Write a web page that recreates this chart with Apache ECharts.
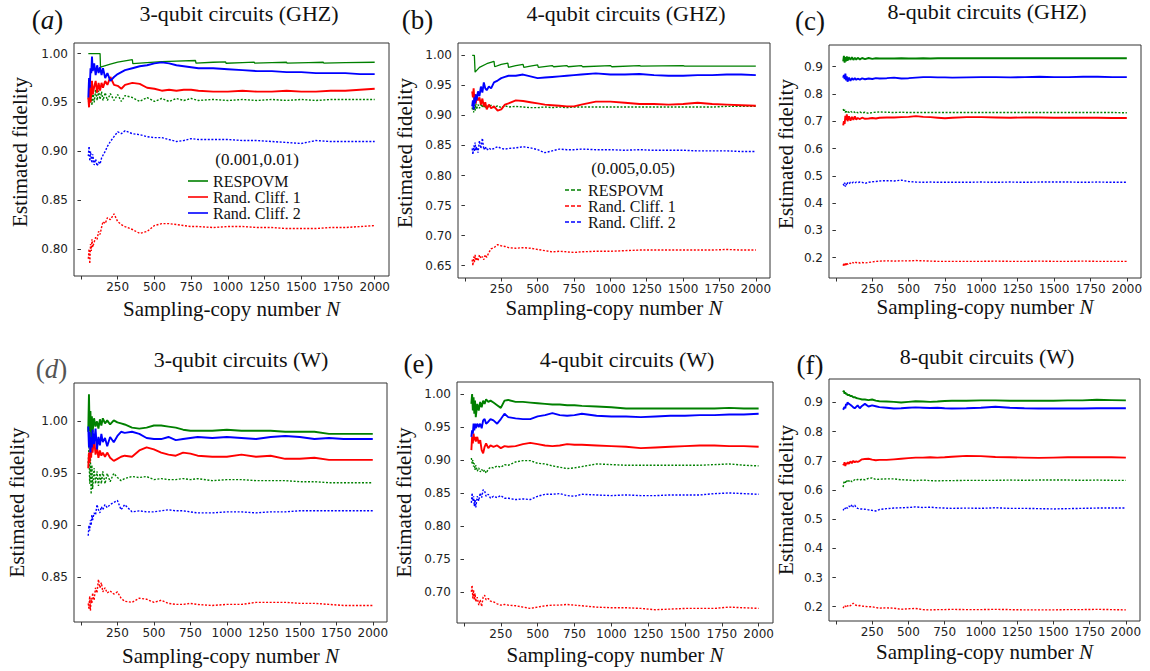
<!DOCTYPE html>
<html><head><meta charset="utf-8">
<script src="https://cdn.jsdelivr.net/npm/echarts@6/dist/echarts.min.js"></script>
<style>html,body{margin:0;padding:0;background:#fff}#chart{width:1150px;height:671px}</style>
</head><body><div id="chart"></div>
<script>
// ---------- shared sampling grid (N) and tick values ----------
const N = [50,55,60,65,70,75,80, 90,100,110,120,130,140,150, 165,180,200,225,250,275,300,
  350,400,450,500,550,600,650,700,750,800, 900,1000,1100,1200,1300,1400,1500,1600,1700,1800,1900,2000];
const xTicks = [0,250,500,750,1000,1250,1500,1750,2000];
const xLabels = [250,500,750,1000,1250,1500,1750,2000];
const yTicksA = [0.80,0.85,0.90,0.95,1.00];
const yTicksB = [0.65,0.70,0.75,0.80,0.85,0.90,0.95,1.00];
const yTicksC = [0.2,0.3,0.4,0.5,0.6,0.7,0.8,0.9];
const yTicksD = [0.85,0.90,0.95,1.00];
const yTicksE = [0.70,0.75,0.80,0.85,0.90,0.95,1.00];
const yTicksF = [0.2,0.3,0.4,0.5,0.6,0.7,0.8,0.9];

// ---------- (a) 3-qubit GHZ ----------
const a_resp_lo = [[50,1.0],[130,1.0],[133,0.986],[200,0.9892],[250,0.9912],[300,0.9926],[350,0.9937],[353,0.9896],[450,0.9908],[550,0.9917],[650,0.9923],[780,0.9929],[783,0.9903],[900,0.9911],[985,0.9915],[988,0.9901],[1100,0.9908],[1180,0.9912],[1183,0.9902],[1300,0.9907],[1400,0.9911],[1403,0.9902],[1550,0.9908],[1650,0.9911],[1653,0.9903],[1800,0.9907],[2000,0.9911]];
const a_rc1_lo = [0.955,0.945,0.968,0.95,0.96,0.972,0.958, 0.966,0.972,0.96,0.97,0.962,0.97,0.965, 0.972,0.968,0.976,0.968,0.967,0.964,0.968,
  0.97,0.969,0.965,0.964,0.962,0.963,0.962,0.963,0.963,0.962, 0.961,0.961,0.962,0.961,0.961,0.962,0.961,0.961,0.962,0.962,0.963,0.964];
const a_rc2_lo = [0.955,0.975,0.965,0.985,0.98,0.997,0.982, 0.99,0.978,0.988,0.98,0.986,0.978,0.985, 0.975,0.98,0.972,0.976,0.979,0.981,0.983,
  0.985,0.987,0.988,0.99,0.991,0.99,0.988,0.987,0.986,0.985, 0.985,0.984,0.983,0.982,0.982,0.981,0.981,0.98,0.98,0.98,0.979,0.979];
const a_resp_hi = [0.955,0.945,0.96,0.95,0.958,0.947,0.962, 0.95,0.963,0.952,0.962,0.953,0.961,0.952, 0.96,0.952,0.959,0.952,0.958,0.951,0.957,
  0.955,0.951,0.955,0.951,0.954,0.951,0.954,0.952,0.954,0.952, 0.953,0.952,0.953,0.952,0.953,0.952,0.953,0.952,0.953,0.953,0.953,0.953];
const a_rc1_hi = [0.79,0.8,0.785,0.805,0.798,0.81,0.802, 0.807,0.812,0.81,0.818,0.815,0.822,0.828, 0.826,0.832,0.83,0.836,0.828,0.825,0.823,
  0.82,0.816,0.818,0.824,0.826,0.826,0.825,0.824,0.823,0.823, 0.822,0.823,0.823,0.822,0.822,0.821,0.821,0.821,0.822,0.822,0.823,0.824];
const a_rc2_hi = [0.895,0.905,0.89,0.9,0.893,0.888,0.897, 0.886,0.892,0.885,0.889,0.887,0.893,0.896, 0.9,0.905,0.91,0.915,0.92,0.918,0.921,
  0.918,0.917,0.915,0.914,0.914,0.912,0.91,0.911,0.913,0.912, 0.912,0.912,0.911,0.911,0.91,0.909,0.908,0.911,0.91,0.91,0.91,0.91];

// ---------- (b) 4-qubit GHZ ----------
const b_resp_lo = [[50,1.0],[65,1.0],[70,0.972],[100,0.980],[150,0.986],[200,0.990],[205,0.981],[250,0.985],[295,0.987],[300,0.980],[350,0.983],[400,0.985],[405,0.980],[450,0.982],[500,0.984],[505,0.980],[600,0.983],[610,0.981],[700,0.983],[710,0.981],[800,0.983],[810,0.981],[1000,0.983],[1010,0.981],[1200,0.983],[1210,0.982],[1500,0.983],[1510,0.982],[2000,0.982]];
const b_rc1_lo = [0.94,0.93,0.945,0.925,0.935,0.92,0.932, 0.925,0.93,0.918,0.928,0.915,0.922,0.91, 0.918,0.912,0.915,0.908,0.91,0.918,0.92,
  0.925,0.924,0.922,0.92,0.918,0.917,0.916,0.915,0.915,0.918, 0.923,0.923,0.921,0.919,0.919,0.918,0.919,0.921,0.919,0.918,0.917,0.916];
const b_rc2_lo = [0.915,0.925,0.91,0.93,0.92,0.935,0.925, 0.94,0.932,0.948,0.938,0.955,0.945,0.942, 0.948,0.945,0.955,0.958,0.962,0.964,0.966,
  0.966,0.968,0.965,0.962,0.963,0.964,0.965,0.966,0.967,0.968, 0.97,0.968,0.968,0.969,0.967,0.966,0.966,0.967,0.967,0.968,0.968,0.967];
const b_resp_hi = [0.91,0.92,0.905,0.918,0.908,0.92,0.91, 0.918,0.912,0.92,0.913,0.918,0.912,0.917, 0.914,0.917,0.913,0.916,0.913,0.916,0.914,
  0.915,0.914,0.913,0.913,0.914,0.913,0.914,0.913,0.914,0.914, 0.914,0.914,0.914,0.914,0.914,0.914,0.914,0.914,0.914,0.915,0.915,0.915];
const b_rc1_hi = [0.66,0.65,0.665,0.655,0.668,0.66,0.663, 0.658,0.668,0.662,0.665,0.66,0.668,0.664, 0.672,0.678,0.68,0.685,0.683,0.682,0.68,
  0.679,0.68,0.679,0.677,0.675,0.673,0.674,0.673,0.672,0.673, 0.674,0.674,0.675,0.676,0.676,0.676,0.676,0.676,0.676,0.677,0.676,0.676];
const b_rc2_hi = [0.845,0.835,0.85,0.84,0.855,0.842,0.848, 0.838,0.858,0.845,0.862,0.843,0.848,0.842, 0.846,0.843,0.845,0.848,0.845,0.844,0.845,
  0.846,0.848,0.846,0.843,0.838,0.841,0.844,0.843,0.843,0.844, 0.843,0.843,0.842,0.843,0.842,0.842,0.842,0.841,0.841,0.841,0.84,0.84];

// ---------- (c) 8-qubit GHZ ----------
const c_resp_lo = [0.92,0.94,0.915,0.935,0.92,0.938,0.922, 0.935,0.925,0.935,0.925,0.933,0.926,0.933, 0.927,0.932,0.928,0.932,0.929,0.931,0.93,
  0.93,0.93,0.931,0.93,0.93,0.931,0.93,0.931,0.931,0.931, 0.931,0.931,0.931,0.931,0.931,0.931,0.931,0.931,0.931,0.931,0.931,0.931];
const c_rc1_lo = [0.685,0.7,0.69,0.72,0.705,0.725,0.7, 0.718,0.702,0.716,0.705,0.718,0.706,0.712, 0.708,0.713,0.709,0.71,0.712,0.71,0.713,
  0.714,0.714,0.715,0.716,0.719,0.716,0.715,0.713,0.711,0.713, 0.715,0.715,0.714,0.713,0.714,0.714,0.713,0.713,0.713,0.713,0.712,0.712];
const c_rc2_lo = [0.86,0.87,0.855,0.875,0.85,0.865,0.845, 0.86,0.848,0.858,0.852,0.858,0.852,0.856, 0.853,0.857,0.854,0.857,0.855,0.858,0.857,
  0.858,0.86,0.857,0.858,0.86,0.862,0.862,0.861,0.861,0.86, 0.861,0.862,0.862,0.861,0.862,0.863,0.862,0.862,0.863,0.863,0.862,0.862];
const c_resp_hi = [0.745,0.735,0.742,0.732,0.74,0.733,0.738, 0.732,0.737,0.733,0.736,0.732,0.735,0.731, 0.734,0.73,0.733,0.729,0.732,0.733,0.734,
  0.733,0.732,0.733,0.732,0.732,0.732,0.732,0.732,0.732,0.732, 0.732,0.732,0.732,0.732,0.732,0.732,0.732,0.732,0.732,0.732,0.732,0.731];
const c_rc1_hi = [0.17,0.18,0.168,0.178,0.172,0.182,0.175, 0.18,0.178,0.183,0.18,0.184,0.181,0.183, 0.18,0.182,0.18,0.182,0.184,0.186,0.187,
  0.188,0.187,0.188,0.188,0.189,0.188,0.187,0.186,0.186,0.186, 0.186,0.186,0.187,0.186,0.186,0.187,0.186,0.186,0.187,0.186,0.186,0.186];
const c_rc2_hi = [0.47,0.465,0.475,0.46,0.47,0.465,0.475, 0.47,0.476,0.473,0.477,0.474,0.477,0.475, 0.477,0.476,0.472,0.476,0.478,0.479,0.481,
  0.482,0.481,0.484,0.479,0.477,0.476,0.477,0.476,0.476,0.476, 0.476,0.477,0.476,0.477,0.476,0.477,0.477,0.477,0.476,0.477,0.476,0.476];

// ---------- (d) 3-qubit W ----------
const d_resp_lo = [0.99,1.026,0.99,1.01,0.985,1.005,0.99, 1.003,0.995,1.0,0.993,1.002,0.996,1.003, 0.998,1.001,0.997,1.001,0.999,0.998,0.997,
  0.994,0.993,0.994,0.996,0.996,0.995,0.994,0.992,0.991,0.991, 0.991,0.992,0.991,0.991,0.991,0.99,0.99,0.99,0.988,0.988,0.988,0.988];
const d_rc1_lo = [0.955,0.97,0.96,0.975,0.965,0.98,0.97, 0.985,0.968,0.975,0.965,0.972,0.967,0.97, 0.966,0.97,0.965,0.962,0.964,0.966,0.967,
  0.966,0.972,0.975,0.973,0.97,0.968,0.967,0.97,0.969,0.967, 0.966,0.966,0.968,0.966,0.967,0.964,0.964,0.965,0.963,0.963,0.963,0.963];
const d_rc2_lo = [0.995,0.975,0.99,0.97,0.985,0.975,0.992, 0.978,0.993,0.973,0.985,0.977,0.988,0.98, 0.984,0.976,0.985,0.98,0.986,0.99,0.989,
  0.99,0.988,0.984,0.983,0.983,0.985,0.982,0.983,0.984,0.985, 0.984,0.985,0.984,0.983,0.985,0.986,0.985,0.983,0.984,0.983,0.983,0.983];
const d_resp_hi = [0.96,0.975,0.94,0.965,0.93,0.958,0.935, 0.955,0.94,0.952,0.938,0.95,0.94,0.952, 0.94,0.95,0.942,0.95,0.946,0.943,0.945,
  0.947,0.946,0.947,0.944,0.945,0.944,0.944,0.945,0.944,0.945, 0.943,0.944,0.944,0.943,0.943,0.943,0.942,0.942,0.941,0.941,0.941,0.941];
const d_rc1_hi = [0.825,0.82,0.832,0.818,0.83,0.825,0.835, 0.828,0.84,0.835,0.848,0.84,0.845,0.836, 0.84,0.835,0.837,0.834,0.836,0.83,0.827,
  0.826,0.83,0.829,0.826,0.828,0.825,0.824,0.824,0.825,0.824, 0.823,0.824,0.824,0.826,0.826,0.826,0.825,0.825,0.824,0.823,0.823,0.823];
const d_rc2_hi = [0.89,0.9,0.895,0.905,0.9,0.91,0.905, 0.912,0.91,0.92,0.915,0.912,0.918,0.915, 0.92,0.917,0.92,0.922,0.924,0.915,0.92,
  0.913,0.914,0.913,0.913,0.914,0.915,0.914,0.914,0.913,0.912, 0.912,0.913,0.913,0.912,0.913,0.913,0.914,0.914,0.914,0.914,0.914,0.914];

// ---------- (e) 4-qubit W ----------
const e_resp_lo = [0.985,1.0,0.975,0.995,0.97,0.99,0.965, 0.985,0.975,0.988,0.98,0.99,0.985,0.992, 0.988,0.99,0.987,0.983,0.979,0.99,0.991,
  0.988,0.988,0.987,0.986,0.985,0.984,0.984,0.983,0.983,0.982, 0.981,0.98,0.978,0.978,0.978,0.978,0.978,0.978,0.978,0.979,0.978,0.978];
const e_rc1_lo = [0.915,0.935,0.925,0.94,0.93,0.935,0.928, 0.935,0.925,0.93,0.915,0.91,0.92,0.925, 0.918,0.922,0.92,0.922,0.918,0.921,0.92,
  0.921,0.924,0.926,0.924,0.922,0.921,0.922,0.924,0.923,0.923, 0.922,0.921,0.92,0.918,0.919,0.92,0.921,0.922,0.922,0.921,0.921,0.92];
const e_rc2_lo = [0.935,0.945,0.94,0.955,0.945,0.955,0.948, 0.955,0.95,0.955,0.948,0.96,0.962,0.955, 0.958,0.962,0.96,0.955,0.962,0.97,0.965,
  0.963,0.962,0.962,0.966,0.968,0.971,0.968,0.967,0.968,0.97, 0.967,0.966,0.966,0.965,0.966,0.967,0.967,0.968,0.968,0.969,0.969,0.97];
const e_resp_hi = [0.903,0.895,0.9,0.89,0.895,0.885,0.892, 0.883,0.888,0.882,0.886,0.882,0.885,0.88, 0.886,0.889,0.888,0.891,0.889,0.893,0.892,
  0.897,0.899,0.899,0.895,0.894,0.891,0.889,0.887,0.888,0.89, 0.894,0.893,0.892,0.892,0.892,0.892,0.892,0.892,0.893,0.894,0.892,0.891];
const e_rc1_hi = [0.7,0.71,0.69,0.703,0.688,0.698,0.685, 0.692,0.68,0.688,0.678,0.692,0.695,0.688, 0.69,0.686,0.685,0.682,0.68,0.681,0.68,
  0.679,0.677,0.675,0.677,0.679,0.68,0.68,0.681,0.68,0.679, 0.677,0.676,0.676,0.675,0.673,0.674,0.675,0.675,0.675,0.677,0.676,0.675];
const e_rc2_hi = [0.835,0.85,0.838,0.845,0.83,0.84,0.828, 0.845,0.838,0.85,0.843,0.855,0.853,0.845, 0.848,0.842,0.845,0.843,0.846,0.842,0.842,
  0.84,0.841,0.84,0.845,0.848,0.848,0.849,0.846,0.845,0.848, 0.847,0.846,0.847,0.846,0.846,0.847,0.847,0.847,0.849,0.85,0.849,0.848];

// ---------- (f) 8-qubit W ----------
const f_resp_lo = [0.935,0.94,0.93,0.935,0.928,0.93,0.925, 0.926,0.922,0.922,0.918,0.918,0.915,0.914, 0.912,0.91,0.91,0.908,0.91,0.906,0.904,
  0.903,0.902,0.9,0.902,0.904,0.903,0.902,0.903,0.905,0.906, 0.906,0.907,0.907,0.906,0.906,0.906,0.906,0.907,0.907,0.909,0.908,0.907];
const f_rc1_lo = [0.69,0.685,0.695,0.682,0.692,0.688,0.695, 0.69,0.698,0.692,0.7,0.695,0.698,0.696, 0.7,0.705,0.706,0.707,0.704,0.702,0.703,
  0.703,0.705,0.707,0.709,0.711,0.711,0.712,0.711,0.712,0.714, 0.717,0.716,0.713,0.712,0.711,0.71,0.711,0.712,0.712,0.712,0.712,0.711];
const f_rc2_lo = [0.875,0.88,0.885,0.88,0.895,0.89,0.9, 0.895,0.892,0.888,0.883,0.88,0.885,0.89, 0.88,0.888,0.895,0.886,0.89,0.887,0.884,
  0.882,0.879,0.88,0.882,0.883,0.882,0.881,0.882,0.88,0.879, 0.88,0.882,0.885,0.882,0.88,0.879,0.879,0.879,0.879,0.88,0.88,0.88];
const f_resp_hi = [0.61,0.625,0.63,0.625,0.632,0.628,0.635, 0.63,0.634,0.628,0.632,0.635,0.633,0.636, 0.634,0.637,0.635,0.64,0.641,0.636,0.637,
  0.638,0.638,0.635,0.634,0.632,0.634,0.632,0.631,0.632,0.632, 0.633,0.633,0.633,0.634,0.633,0.634,0.634,0.634,0.633,0.634,0.633,0.633];
const f_rc1_hi = [0.195,0.2,0.198,0.203,0.2,0.205,0.202, 0.206,0.203,0.208,0.212,0.207,0.205,0.203, 0.204,0.202,0.201,0.2,0.2,0.197,0.195,
  0.196,0.195,0.191,0.193,0.194,0.19,0.189,0.19,0.19,0.191, 0.19,0.19,0.191,0.19,0.189,0.189,0.189,0.19,0.19,0.191,0.19,0.189];
const f_rc2_hi = [0.53,0.535,0.532,0.538,0.535,0.54,0.537, 0.545,0.54,0.55,0.542,0.548,0.54,0.537, 0.535,0.535,0.534,0.532,0.53,0.528,0.533,
  0.536,0.538,0.539,0.54,0.542,0.54,0.541,0.539,0.538,0.537, 0.538,0.537,0.539,0.537,0.537,0.536,0.535,0.536,0.537,0.538,0.538,0.538];

const seriesNames = ['RESPOVM','Rand. Cliff. 1','Rand. Cliff. 2'];
const hiSuffix = ' (0.005,0.05)';
const titles = ['3-qubit circuits (GHZ)','4-qubit circuits (GHZ)','8-qubit circuits (GHZ)',
                '3-qubit circuits (W)','4-qubit circuits (W)','8-qubit circuits (W)'];
const panelLetters = ['a','b','c','d','e','f'];

// ---------- layout / style (not data) ----------
const COLORS = ['#008000','#ff0000','#0000ff'];
const SERIF = 'Liberation Serif';
const panels = [
  {lo:[a_resp_lo,a_rc1_lo,a_rc2_lo], hi:[a_resp_hi,a_rc1_hi,a_rc2_hi], yt:yTicksA, dec:2, ymin:0.7724, ymax:1.0108,
   g:{left:74,top:43,width:315,height:233}, xg:22, yg:44, ypad:15, t:[239,13], l:[47.5,19.5], it:true},
  {lo:[b_resp_lo,b_rc1_lo,b_rc2_lo], hi:[b_resp_hi,b_rc1_hi,b_rc2_hi], yt:yTicksB, dec:2, ymin:0.6295, ymax:1.0205,
   g:{left:458,top:43,width:312,height:235}, xg:19, yg:42.5, ypad:15, t:[626,13], l:[417.5,19.5], it:false},
  {lo:[c_resp_lo,c_rc1_lo,c_rc2_lo], hi:[c_resp_hi,c_rc1_hi,c_rc2_hi], yt:yTicksC, dec:1, ymin:0.125, ymax:0.9797,
   g:{left:829,top:45,width:312,height:233}, xg:18, yg:33, ypad:15, t:[987,11], l:[810,20.5], it:false},
  {lo:[d_resp_lo,d_rc1_lo,d_rc2_lo], hi:[d_resp_hi,d_rc1_hi,d_rc2_hi], yt:yTicksD, dec:2, ymin:0.8071, ymax:1.0369,
   g:{left:74,top:383,width:313,height:239}, xg:23.5, yg:47, ypad:0, t:[241,359], l:[51.5,368.5], it:true, lc:'#555'},
  {lo:[e_resp_lo,e_rc1_lo,e_rc2_lo], hi:[e_resp_hi,e_rc1_hi,e_rc2_hi], yt:yTicksE, dec:2, ymin:0.6529, ymax:1.0182,
   g:{left:457,top:382,width:316,height:241}, xg:21.5, yg:42.5, ypad:0, t:[627,359], l:[418.5,364], it:false},
  {lo:[f_resp_lo,f_rc1_lo,f_rc2_lo], hi:[f_resp_hi,f_rc1_hi,f_rc2_hi], yt:yTicksF, dec:1, ymin:0.151, ymax:0.9803,
   g:{left:829,top:379,width:311,height:242}, xg:20, yg:32.5, ypad:0, t:[987,356], l:[810,365], it:false}
];

function toPairs(vals) {
  if (Array.isArray(vals[0])) return vals;
  return vals.map((v, i) => [N[i], v]);
}

const grids = [], xAxes = [], yAxes = [], series = [], graphics = [];
panels.forEach((p, i) => {
  grids.push(Object.assign({show:true, borderColor:'#333', borderWidth:1, backgroundColor:'transparent'}, p.g));
  xAxes.push({
    gridIndex:i, type:'value', min:-47.5, max:2097.5,
    name:'Sampling-copy number {i|N}', nameLocation:'middle', nameGap:p.xg,
    nameTextStyle:{fontFamily:SERIF, fontSize:21, fontWeight:'normal', color:'#111',
      rich:{i:{fontFamily:SERIF, fontSize:21, fontStyle:'italic', color:'#111'}}},
    axisLine:{show:false},
    axisTick:{show:true, length:3.5, lineStyle:{color:'#333'}, customValues:xTicks},
    axisLabel:{customValues:xLabels, margin:5, fontFamily:'DejaVu Sans', fontSize:12, color:'#222',
      formatter:(v) => String(Math.round(v))},
    splitLine:{show:false}
  });
  yAxes.push({
    gridIndex:i, type:'value', min:p.ymin, max:p.ymax,
    name:'Estimated fidelity', nameLocation:'middle', nameRotate:90, nameGap:p.yg,
    nameTextStyle:{fontFamily:SERIF, fontSize:21, fontWeight:'normal', color:'#111', padding:[0,0,0,p.ypad]},
    axisLine:{show:false},
    axisTick:{show:true, length:3.5, lineStyle:{color:'#333'}, customValues:p.yt},
    axisLabel:{customValues:p.yt, margin:6, fontFamily:'DejaVu Sans', fontSize:12, color:'#222',
      formatter:(v) => Number(v).toFixed(p.dec)},
    splitLine:{show:false}
  });
  // dotted (higher-noise) curves first, solid on top
  p.hi.forEach((vals, k) => {
    series.push({type:'line', name:seriesNames[k] + hiSuffix, xAxisIndex:i, yAxisIndex:i,
      data:toPairs(vals), symbol:'none', silent:true, animation:false,
      itemStyle:{color:COLORS[k]},
      lineStyle:{color:COLORS[k], width:1.4, type:[2,1.6]}});
  });
  p.lo.forEach((vals, k) => {
    const saw = Array.isArray(vals[0]);
    series.push({type:'line', name:seriesNames[k], xAxisIndex:i, yAxisIndex:i,
      data:toPairs(vals), symbol:'none', silent:true, animation:false,
      itemStyle:{color:COLORS[k]},
      lineStyle:{color:COLORS[k], width:saw ? 1.3 : 1.9}});
  });
  graphics.push({type:'text', x:p.t[0], y:p.t[1], silent:true,
    style:{text:titles[i], fontFamily:SERIF, fontSize:22, fontWeight:'normal', fill:'#111', textAlign:'center', textVerticalAlign:'middle'}});
  const letter = p.it ? '({i|' + panelLetters[i] + '})' : '(' + panelLetters[i] + ')';
  graphics.push({type:'text', x:p.l[0], y:p.l[1], silent:true,
    style:{text:letter, fontFamily:SERIF, fontSize:27, fontWeight:'normal', fill:p.lc || '#111', textAlign:'center', textVerticalAlign:'middle',
      rich:{i:{fontFamily:SERIF, fontSize:27, fontStyle:'italic', color:p.lc || '#111'}}}});
});

// legend headers
graphics.push({type:'text', x:257, y:159, silent:true,
  style:{text:'(0.001,0.01)', fontFamily:SERIF, fontSize:17, fill:'#111', textAlign:'center', textVerticalAlign:'middle'}});
graphics.push({type:'text', x:633, y:168, silent:true,
  style:{text:'(0.005,0.05)', fontFamily:SERIF, fontSize:17, fill:'#111', textAlign:'center', textVerticalAlign:'middle'}});

const legendText = {fontFamily:SERIF, fontSize:16, color:'#111', lineHeight:16};
const option = {
  animation:false,
  backgroundColor:'#fff',
  grid:grids, xAxis:xAxes, yAxis:yAxes, series:series, graphic:graphics,
  legend:[
    {data:seriesNames.slice(), orient:'vertical', left:188, top:173, padding:0,
     itemWidth:20, itemHeight:1.6, itemGap:0, icon:'rect', selectedMode:false,
     itemStyle:{borderWidth:0}, textStyle:legendText},
    {data:seriesNames.map(s => s + hiSuffix), orient:'vertical', left:565, top:182, padding:0,
     itemWidth:20, itemHeight:1.6, itemGap:0, selectedMode:false,
     icon:'path://M0,0h5v2h-5z M7.5,0h5v2h-5z M15,0h5v2h-5z',
     itemStyle:{borderWidth:0}, textStyle:legendText,
     formatter:(name) => name.replace(hiSuffix, '')}
  ]
};

const chart = echarts.init(document.getElementById('chart'), null, {renderer:'svg'});
chart.setOption(option);
</script>
</body></html>
